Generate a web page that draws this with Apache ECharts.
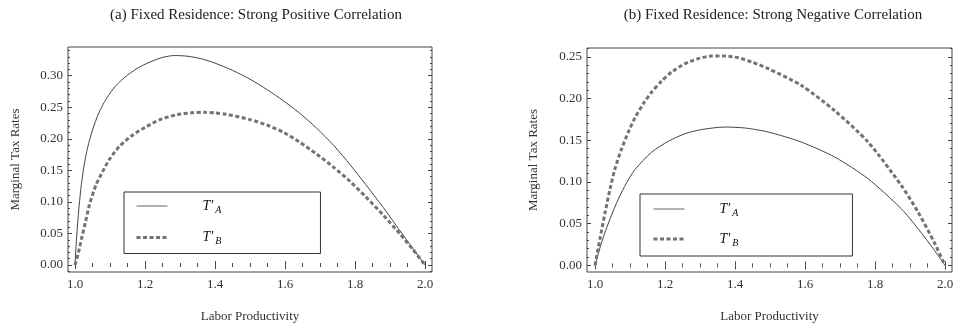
<!DOCTYPE html>
<html>
<head>
<meta charset="utf-8">
<script src="https://cdn.jsdelivr.net/npm/echarts@6/dist/echarts.min.js"></script>
<style>
  html, body { margin: 0; background: #fff; }
  #chart { width: 963px; height: 329px; }
</style>
</head>
<body>
<div id="chart"></div>
<script>
// tick positions
const xMajor = [1.0, 1.2, 1.4, 1.6, 1.8, 2.0];
const xMinor = [1.05, 1.1, 1.15, 1.25, 1.3, 1.35, 1.45, 1.5, 1.55, 1.65, 1.7, 1.75, 1.85, 1.9, 1.95];
const yMajorA = [0, 0.05, 0.1, 0.15, 0.2, 0.25, 0.3];
const yMinorA = [-0.01, 0.01, 0.02, 0.03, 0.04, 0.06, 0.07, 0.08, 0.09, 0.11, 0.12, 0.13, 0.14,
  0.16, 0.17, 0.18, 0.19, 0.21, 0.22, 0.23, 0.24, 0.26, 0.27, 0.28, 0.29, 0.31, 0.32, 0.33, 0.34];
const yMajorB = [0, 0.05, 0.1, 0.15, 0.2, 0.25];
const yMinorB = [0.01, 0.02, 0.03, 0.04, 0.06, 0.07, 0.08, 0.09, 0.11, 0.12, 0.13, 0.14,
  0.16, 0.17, 0.18, 0.19, 0.21, 0.22, 0.23, 0.24, 0.26];

// (a) strong positive correlation
const aTA = [[1.0, 0], [1.003, 0.03], [1.007, 0.062], [1.012, 0.095], [1.018, 0.127], [1.026, 0.158],
  [1.036, 0.186], [1.05, 0.214], [1.068, 0.241], [1.09, 0.264], [1.118, 0.285], [1.15, 0.301],
  [1.185, 0.314], [1.22, 0.323], [1.25, 0.329], [1.284, 0.332], [1.32, 0.331], [1.36, 0.327],
  [1.4, 0.32], [1.45, 0.3085], [1.5, 0.2945], [1.55, 0.2775], [1.595, 0.2605], [1.64, 0.2415],
  [1.69, 0.217], [1.74, 0.189], [1.786, 0.159], [1.83, 0.128], [1.881, 0.091], [1.929, 0.054],
  [1.965, 0.0265], [2.0, 0]];
const aTB = [[1.0, 0], [1.01, 0.02], [1.02, 0.045], [1.03, 0.068], [1.041, 0.095], [1.06, 0.127],
  [1.079, 0.148], [1.098, 0.167], [1.127, 0.188], [1.165, 0.206], [1.203, 0.219], [1.241, 0.23],
  [1.289, 0.238], [1.336, 0.2415], [1.37, 0.242], [1.4, 0.241], [1.431, 0.239], [1.5, 0.2305],
  [1.55, 0.2215], [1.595, 0.2105], [1.64, 0.1955], [1.69, 0.176], [1.74, 0.1545], [1.786, 0.1325],
  [1.83, 0.1085], [1.881, 0.079], [1.929, 0.049], [1.965, 0.025], [2.0, 0]];

// (b) strong negative correlation
const bTA = [[1.0, 0], [1.019, 0.028], [1.043, 0.056], [1.067, 0.08], [1.09, 0.099], [1.114, 0.115],
  [1.162, 0.136], [1.21, 0.149], [1.257, 0.158], [1.305, 0.163], [1.371, 0.166], [1.429, 0.1648],
  [1.495, 0.16], [1.589, 0.148], [1.685, 0.13], [1.78, 0.104], [1.875, 0.068], [1.923, 0.044],
  [1.97, 0.018], [2.0, 0]];
const bTB = [[1.0, 0], [1.014, 0.032], [1.029, 0.064], [1.043, 0.092], [1.057, 0.116], [1.076, 0.14],
  [1.095, 0.16], [1.114, 0.177], [1.138, 0.194], [1.162, 0.208], [1.19, 0.221], [1.219, 0.232],
  [1.257, 0.242], [1.295, 0.248], [1.333, 0.2512], [1.371, 0.2512], [1.41, 0.249], [1.448, 0.244],
  [1.495, 0.236], [1.589, 0.216], [1.685, 0.1855], [1.78, 0.148], [1.875, 0.096], [1.923, 0.064],
  [1.97, 0.027], [2.0, 0]];

const titles = ["(a) Fixed Residence: Strong Positive Correlation", "(b) Fixed Residence: Strong Negative Correlation"];

const serif = "Liberation Serif";
const ink = "#333";
const solidStyle = { color: "#444", width: 1 };
const dashStyle = { color: "#737373", width: 3, type: [4, 2.5] };

function xAxes(grid, min, max) {
  const base = { type: "value", gridIndex: grid, min: min, max: max,
    axisLine: { show: false }, splitLine: { show: false } };
  return [
    Object.assign({}, base, { position: "bottom", name: "Labor Productivity", nameLocation: "middle", nameGap: 38,
      nameTextStyle: { fontFamily: serif, fontSize: 13, color: ink },
      axisTick: { inside: true, length: 4, customValues: xMajor, lineStyle: { color: "#444" } },
      axisLabel: { customValues: xMajor, margin: 6, fontFamily: serif, fontSize: 13, color: ink,
        formatter: v => v.toFixed(1) } }),
    Object.assign({}, base, { position: "bottom",
      axisTick: { inside: true, length: 2, customValues: xMinor, lineStyle: { color: "#444" } },
      axisLabel: { show: false } }),
    Object.assign({}, base, { position: "top",
      axisTick: { inside: true, length: 4, customValues: xMajor, lineStyle: { color: "#444" } },
      axisLabel: { show: false } }),
    Object.assign({}, base, { position: "top",
      axisTick: { inside: true, length: 2, customValues: xMinor, lineStyle: { color: "#444" } },
      axisLabel: { show: false } })
  ];
}

function yAxes(grid, min, max, major, minor, gap) {
  const base = { type: "value", gridIndex: grid, min: min, max: max,
    axisLine: { show: false }, splitLine: { show: false } };
  return [
    Object.assign({}, base, { position: "left", name: "Marginal Tax Rates", nameLocation: "middle", nameGap: gap,
      nameTextStyle: { fontFamily: serif, fontSize: 13, color: ink },
      axisTick: { inside: true, length: 4, customValues: major, lineStyle: { color: "#444" } },
      axisLabel: { customValues: major, margin: 5, fontFamily: serif, fontSize: 13, color: ink,
        formatter: v => v.toFixed(2) } }),
    Object.assign({}, base, { position: "left",
      axisTick: { inside: true, length: 2, customValues: minor, lineStyle: { color: "#444" } },
      axisLabel: { show: false } }),
    Object.assign({}, base, { position: "right",
      axisTick: { inside: true, length: 4, customValues: major, lineStyle: { color: "#444" } },
      axisLabel: { show: false } }),
    Object.assign({}, base, { position: "right",
      axisTick: { inside: true, length: 2, customValues: minor, lineStyle: { color: "#444" } },
      axisLabel: { show: false } })
  ];
}

function curve(name, data, axis, dashed) {
  const style = dashed ? dashStyle : solidStyle;
  return {
    name: name, type: "line", data: data, xAxisIndex: axis, yAxisIndex: axis,
    symbol: "none", smooth: 0.25, silent: true,
    itemStyle: { color: style.color },
    lineStyle: style
  };
}

function legend(left, top, pad, names, gap) {
  return {
    left: left, top: top, orient: "vertical", padding: pad, itemWidth: 31, itemHeight: 14, itemGap: gap,
    borderColor: "#333", borderWidth: 1, selectedMode: false,
    data: [
      { name: names[0], itemStyle: { opacity: 0 }, lineStyle: { color: "#999", width: 1.5 } },
      { name: names[1], itemStyle: { opacity: 0 }, lineStyle: dashStyle }
    ],
    formatter: n => "{t|T′}{s|" + n.slice(-1) + "}",
    textStyle: {
      rich: {
        t: { fontFamily: serif, fontStyle: "italic", fontSize: 14, color: "#111", padding: [0, 0, 0, 30] },
        s: { fontFamily: serif, fontStyle: "italic", fontSize: 10, color: "#111", padding: [8, 0, 0, 2] }
      }
    }
  };
}

const chart = echarts.init(document.getElementById("chart"), null, { renderer: "canvas" });
chart.setOption({
  animation: false,
  backgroundColor: "#fff",
  title: [
    { text: titles[0], left: 251, top: 3, textAlign: "center",
      textStyle: { fontFamily: serif, fontSize: 15, fontWeight: "normal", color: "#222" } },
    { text: titles[1], left: 768, top: 3, textAlign: "center",
      textStyle: { fontFamily: serif, fontSize: 15, fontWeight: "normal", color: "#222" } }
  ],
  grid: [
    { left: 68, top: 47, width: 364, height: 225, show: true, borderColor: "#444", borderWidth: 1 },
    { left: 587, top: 48, width: 365, height: 224, show: true, borderColor: "#444", borderWidth: 1 }
  ],
  xAxis: xAxes(0, 0.98, 2.02).concat(xAxes(1, 0.977, 2.02)),
  yAxis: yAxes(0, -0.011, 0.3455, yMajorA, yMinorA, 46).concat(yAxes(1, -0.0079, 0.2608, yMajorB, yMinorB, 47)),
  legend: [
    legend(124, 192, [7, 99, 7, 11], ["a:A", "a:B"], 15.5),
    legend(640, 194, [8, 114, 8, 12], ["b:A", "b:B"], 14)
  ],
  series: [
    curve("a:A", aTA, 0, false),
    curve("a:B", aTB, 0, true),
    curve("b:A", bTA, 4, false),
    curve("b:B", bTB, 4, true)
  ]
});
</script>
</body>
</html>
